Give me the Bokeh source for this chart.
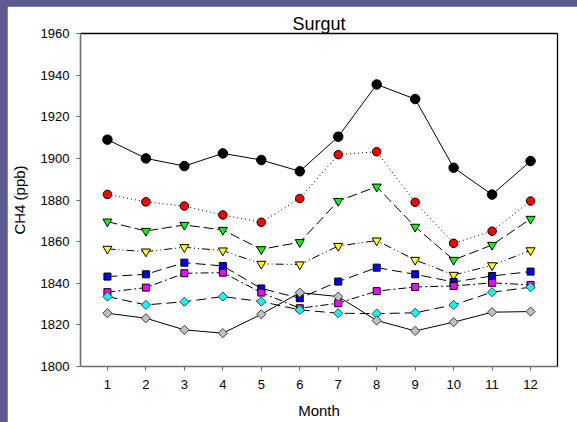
import numpy as np
from bokeh.plotting import figure
from bokeh.layouts import column
from bokeh.models import Range1d, FixedTicker, LinearAxis
from bokeh.embed import file_html
from bokeh.resources import INLINE

months = [1, 2, 3, 4, 5, 6, 7, 8, 9, 10, 11, 12]
black_s = [1909, 1900, 1896.3, 1902.4, 1899.2, 1893.8, 1910.4, 1935.5, 1928.5, 1895.5, 1882.6, 1898.7]
red_s = [1882.7, 1879.1, 1877.1, 1872.8, 1869.3, 1880.7, 1901.8, 1903.2, 1878.9, 1859.2, 1865.0, 1879.5]
green_s = [1869.6, 1865.1, 1868.0, 1865.6, 1856.3, 1859.7, 1879.5, 1886.4, 1867.1, 1851.2, 1858.4, 1870.9]
yellow_s = [1856.5, 1855.2, 1857.3, 1855.7, 1849.3, 1849.0, 1857.9, 1860.5, 1851.2, 1844.0, 1848.6, 1855.8]
blue_s = [1843.2, 1844.3, 1849.9, 1848.3, 1837.5, 1832.8, 1840.8, 1847.5, 1844.3, 1840.6, 1843.5, 1845.6]
magenta_s = [1835.7, 1837.9, 1844.8, 1845.1, 1835.5, 1828.0, 1830.4, 1836.2, 1838.2, 1838.7, 1840.2, 1839.2]
cyan_s = [1833.6, 1829.6, 1831.1, 1833.6, 1831.2, 1827.2, 1825.6, 1825.4, 1825.8, 1829.6, 1835.7, 1838.1]
gray_s = [1825.6, 1823.2, 1817.6, 1816.0, 1825.1, 1835.5, 1833.6, 1822.1, 1817.1, 1821.3, 1826.1, 1826.4]
y_ticks = [1800, 1820, 1840, 1860, 1880, 1900, 1920, 1940, 1960]

FONT = "Liberation Sans"

p = figure(width=570, height=416, output_backend="svg", toolbar_location=None,
           x_range=Range1d(0.3, 12.7), y_range=Range1d(1800, 1960),
           min_border_left=73, min_border_right=20, min_border_top=27, min_border_bottom=56)
p.margin = (6, 0, 0, 7)
p.background_fill_color = "white"
p.border_fill_color = "white"
p.outline_line_color = None
p.grid.visible = False

p.title.text = "Surgut"
p.title.align = "center"
p.title.text_font = FONT
p.title.text_font_size = "18px"
p.title.text_font_style = "normal"
p.title.text_color = "black"
p.title.standoff = 0

for ax in (p.xaxis[0], p.yaxis[0]):
    ax.axis_line_color = "#6e6e6e"
    ax.axis_line_width = 1.6
    ax.major_tick_line_color = "#6e6e6e"
    ax.major_tick_line_width = 1.2
    ax.major_tick_in = 0
    ax.major_tick_out = 4
    ax.minor_tick_line_color = None
    ax.major_label_text_font = FONT
    ax.major_label_text_font_size = "13px"
    ax.major_label_text_color = "black"
    ax.axis_label_text_font = FONT
    ax.axis_label_text_font_size = "15px"
    ax.axis_label_text_font_style = "normal"
    ax.axis_label_text_color = "black"

p.xaxis.ticker = FixedTicker(ticks=months)
p.yaxis.ticker = FixedTicker(ticks=y_ticks)
p.xaxis.axis_label = "Month"
p.yaxis.axis_label = "CH4 (ppb)"
p.xaxis.major_label_standoff = 9
p.xaxis.axis_label_standoff = 10
p.yaxis.major_label_standoff = 7
p.yaxis.axis_label_standoff = 10

for loc in ("right", "above"):
    ea = LinearAxis(ticker=FixedTicker(ticks=[]), axis_line_color="black", axis_line_width=1.3,
                    major_tick_line_color=None, minor_tick_line_color=None,
                    major_label_text_font_size="0px", major_label_standoff=0)
    p.add_layout(ea, loc)

series = [
    (black_s, "solid", "circle", 9.5, "black", "black", 0),
    (red_s, "1 3", "circle", 8.5, "#ff0000", "black", 0),
    (green_s, "10 4", "inverted_triangle", 9, "#00ff00", "black", 0),
    (yellow_s, "8 3 1 3 1 3", "inverted_triangle", 9, "#ffff00", "black", 0),
    (blue_s, "10 5", "square", 7, "#0000ff", "black", 0),
    (magenta_s, "8 3 2 3", "square", 7, "#ff00ff", "black", 0),
    (cyan_s, "10 5", "square", 6.5, "#00ffff", "#404040", np.pi / 4),
    (gray_s, "solid", "square", 6.5, "#c0c0c0", "#404040", np.pi / 4),
]

for vals, dash, marker, size, fill, outline, ang in series:
    p.line(months, vals, line_color="black", line_width=1, line_dash=dash)
for vals, dash, marker, size, fill, outline, ang in series:
    p.scatter(months, vals, marker=marker, size=size, fill_color=fill,
              line_color=outline, line_width=1, angle=ang)

layout = column(p, styles={"background-color": "#5b5b8f"})

open("out.html", "w").write(file_html(layout, INLINE))
